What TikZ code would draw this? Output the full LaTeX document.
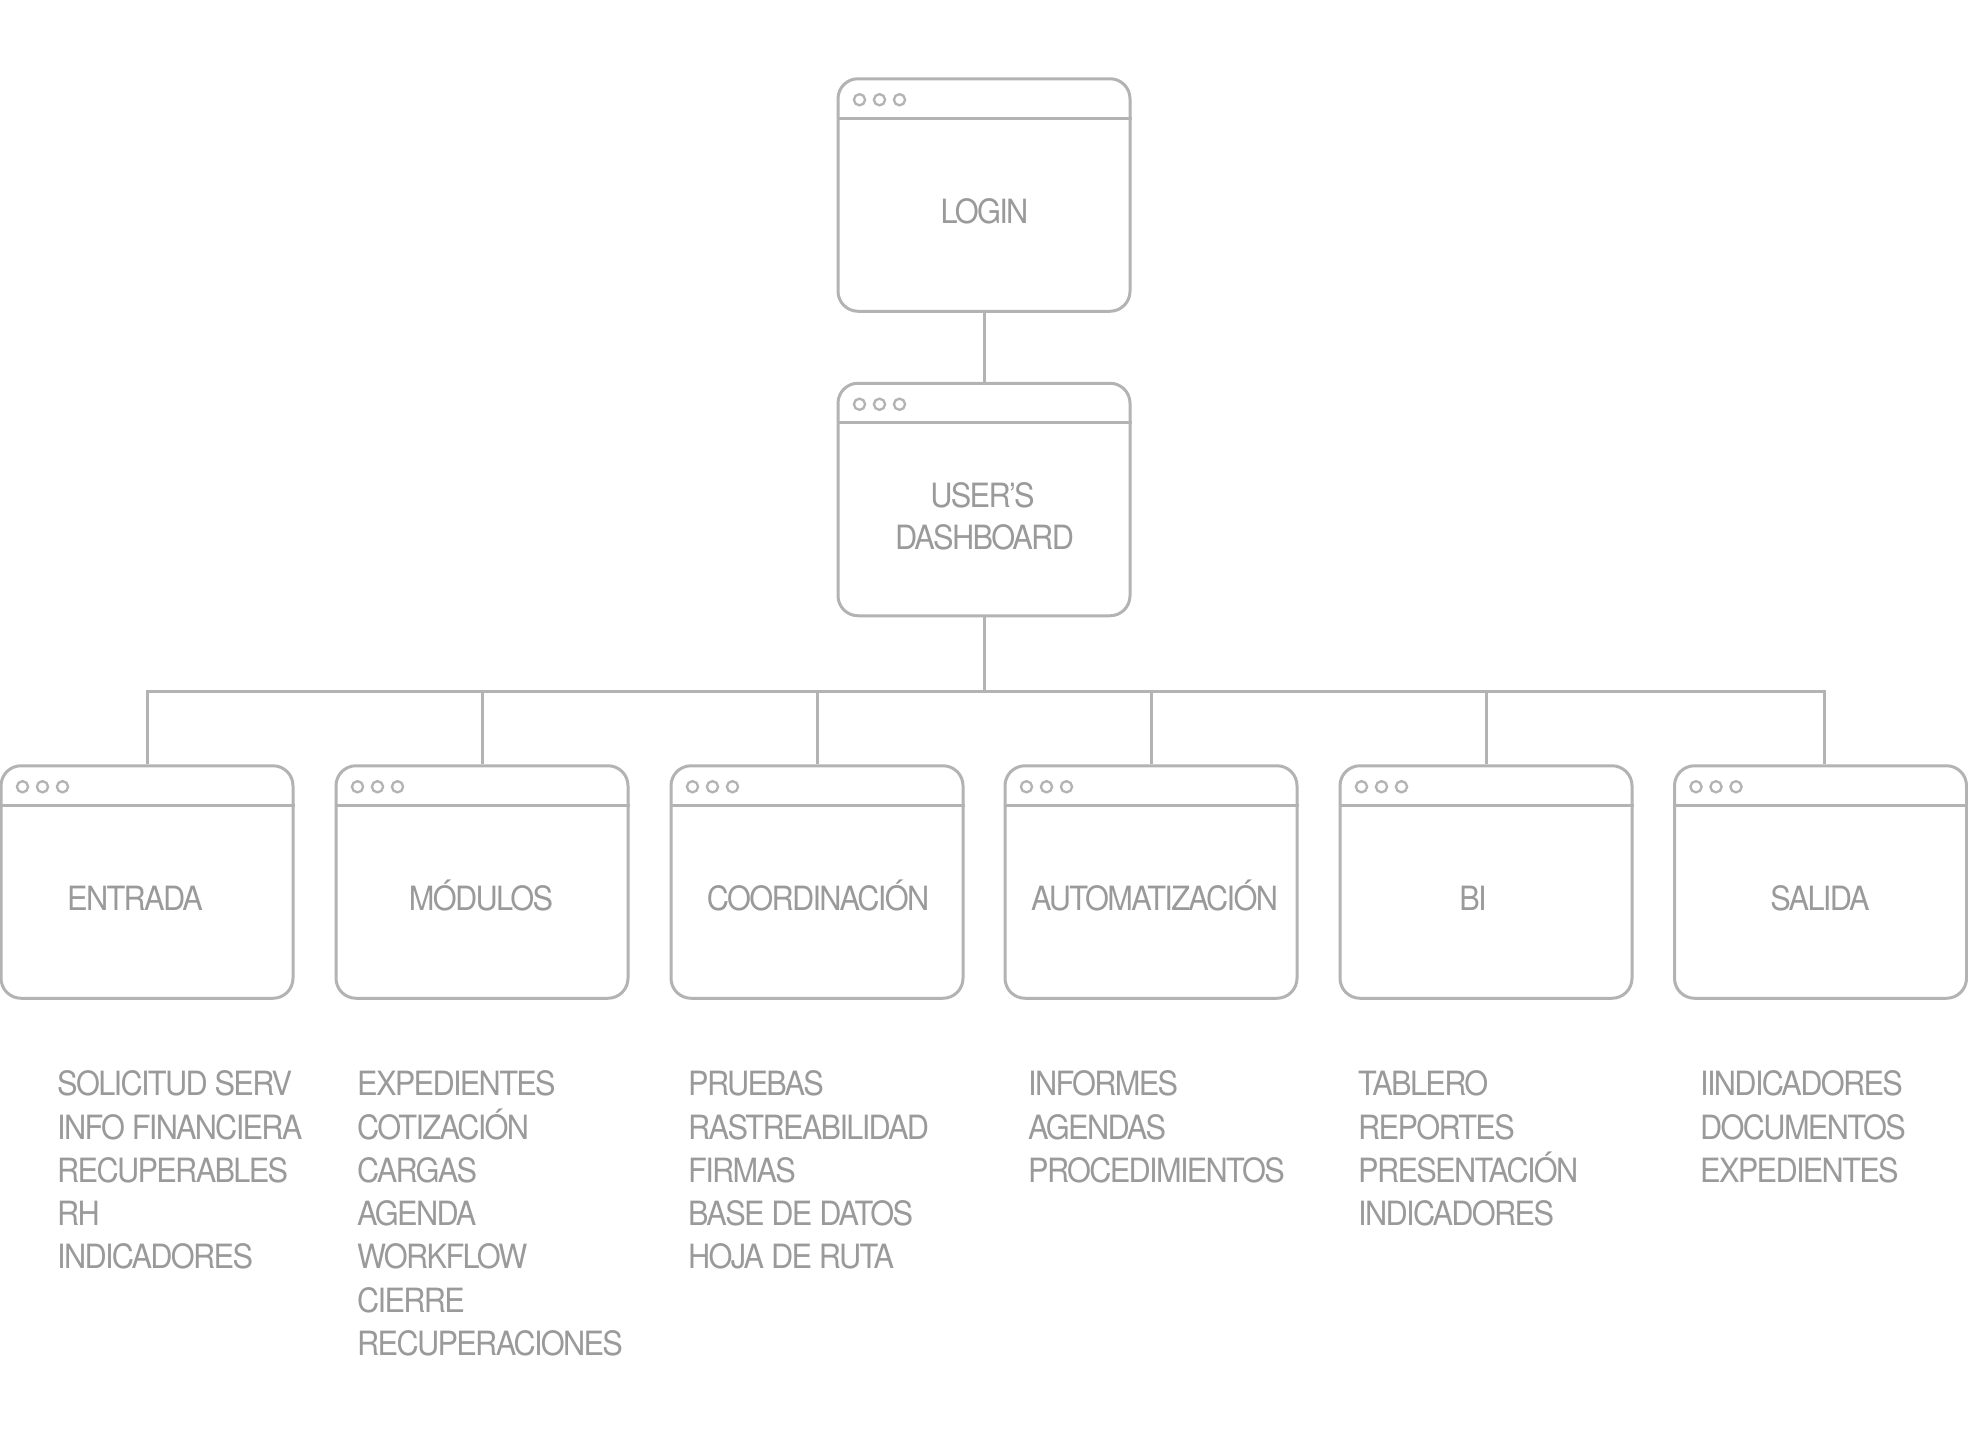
\documentclass[tikz,border=0pt]{standalone}
\usepackage{fontspec}
\setmainfont{TeX Gyre Heros}[FakeStretch=0.92,LetterSpace=-5]
\usetikzlibrary{calc}
\definecolor{linegray}{HTML}{B3B3B3}
\definecolor{textgray}{HTML}{9A9A9A}
\tikzset{
  winbox/.style={draw=linegray,line width=3pt,rounded corners=20pt,minimum width=292pt,minimum height=232.5pt,inner sep=0pt,fill=none},
  conn/.style={draw=linegray,line width=3pt},
  wtxt/.style={text=textgray,inner sep=0pt,anchor=base,font=\fontsize{33.4}{43.3}\selectfont},
  listtxt/.style={text=textgray,inner sep=0pt,anchor=base west,font=\fontsize{33.4}{43.3}\selectfont},
}
\newcommand{\wintop}[1]{%
  \draw[conn] ($(#1.north west)+(0,41)$) -- ($(#1.north east)+(0,41)$);
  \foreach \dx in {23,43,63}{\draw[draw=linegray,line width=2.3pt] ($(#1.north west)+(\dx,22.5)$) circle (5.6pt);}
}
\begin{document}
\begin{tikzpicture}[x=1pt,y=-1pt]
\useasboundingbox (0,0) rectangle (1968,1432);
\fill[white] (0,0) rectangle (1968,1432);
% boxes
\node[winbox] (login) at (984,195) {};
\node[winbox] (dash) at (984,499.5) {};
\node[winbox] (c1) at (147,882) {};
\node[winbox] (c2) at (482,882) {};
\node[winbox] (c3) at (817,882) {};
\node[winbox] (c4) at (1151,882) {};
\node[winbox] (c5) at (1486,882) {};
\node[winbox] (c6) at (1820.5,882) {};
\foreach \b in {login,dash,c1,c2,c3,c4,c5,c6}{\wintop{\b}}
% labels
\node[wtxt] (tlogin) at (984.5,223) {LOGIN};
\node[wtxt] (tdash1) at (982.5,507) {USER’S};
\node[wtxt] (tdash2) at (984.5,549.5) {DASHBOARD};
\node[wtxt] (t1) at (135,910.5) {ENTRADA};
\node[wtxt] (t2) at (481,910.5) {MÓDULOS};
\node[wtxt] (t3) at (818,910.5) {COORDINACIÓN};
\node[wtxt] (t4) at (1154.5,910.5) {AUTOMATIZACIÓN};
\node[wtxt] (t5) at (1473,910.5) {BI};
\node[wtxt] (t6) at (1820,910.5) {SALIDA};
% connectors
\draw[conn] (login.south) -- (dash.north);
\coordinate (bus) at (984,691);
\coordinate (c6top) at ($(c6.north)+(3.5,0)$);
\draw[conn] (dash.south) -- (bus);
\draw[conn] (c1.north) |- (bus) -| (c6top);
\foreach \c in {c2,c3,c4,c5}{\draw[conn] (\c.north |- bus) -- (\c.north);}
% lists
\foreach \t [count=\k] in {SOLICITUD SERV,INFO FINANCIERA,RECUPERABLES,RH,INDICADORES}
  \node[listtxt] (la-\k) at (57,{1095.7+43.3*(\k-1)}) {\t};
\foreach \t [count=\k] in {EXPEDIENTES,COTIZACIÓN,CARGAS,AGENDA,WORKFLOW,CIERRE,RECUPERACIONES}
  \node[listtxt] (lb-\k) at (357,{1095.7+43.3*(\k-1)}) {\t};
\foreach \t [count=\k] in {PRUEBAS,RASTREABILIDAD,FIRMAS,BASE DE DATOS,HOJA DE RUTA}
  \node[listtxt] (lc-\k) at (688,{1095.7+43.3*(\k-1)}) {\t};
\foreach \t [count=\k] in {INFORMES,AGENDAS,PROCEDIMIENTOS}
  \node[listtxt] (ld-\k) at (1028,{1095.7+43.3*(\k-1)}) {\t};
\foreach \t [count=\k] in {TABLERO,REPORTES,PRESENTACIÓN,INDICADORES}
  \node[listtxt] (le-\k) at (1358,{1095.7+43.3*(\k-1)}) {\t};
\foreach \t [count=\k] in {IINDICADORES,DOCUMENTOS,EXPEDIENTES}
  \node[listtxt] (lf-\k) at (1700,{1095.7+43.3*(\k-1)}) {\t};
\end{tikzpicture}
\end{document}
